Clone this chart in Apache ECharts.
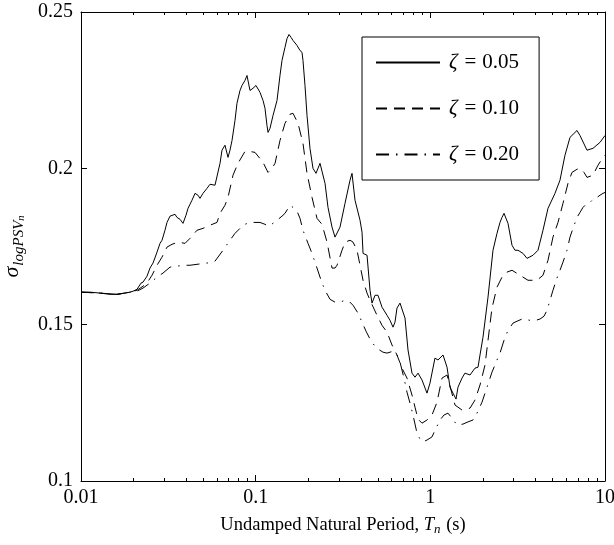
<!DOCTYPE html>
<html><head><meta charset="utf-8">
<script src="https://cdn.jsdelivr.net/npm/echarts@6/dist/echarts.min.js"></script>
<style>html,body{margin:0;padding:0;background:#fff}#c{width:614px;height:545px}</style>
</head><body><div id="c"></div>
<script>
// Period (s) and standard deviation of log PSV for three damping ratios
const periods005 = [0.01,0.01126,0.01285,0.01466,0.01607,0.01786,0.01908,0.01985,0.02092,0.02206,0.02265,0.02387,0.02483,0.02584,0.02724,0.02834,0.02909,0.03026,0.03107,0.03233,0.03319,0.03453,0.03545,0.03689,0.03837,0.03991,0.04099,0.0432,0.04495,0.04675,0.048,0.04994,0.05265,0.05477,0.05623,0.0585,0.06006,0.06249,0.06416,0.06674,0.06944,0.07129,0.0732,0.07615,0.07817,0.08133,0.0835,0.08462,0.08686,0.08919,0.09279,0.09654,0.1004,0.1059,0.1102,0.1131,0.1161,0.1177,0.1208,0.1257,0.1325,0.1378,0.1415,0.1472,0.1512,0.1552,0.1594,0.1636,0.1725,0.1794,0.1842,0.1866,0.1916,0.1968,0.2046,0.2129,0.2215,0.2336,0.2398,0.2495,0.2595,0.2736,0.2846,0.304,0.3247,0.3469,0.3561,0.3705,0.3958,0.4064,0.4118,0.4341,0.4515,0.4635,0.4823,0.5017,0.5288,0.5649,0.5877,0.6114,0.6276,0.6444,0.6705,0.6884,0.7161,0.745,0.7852,0.817,0.85,0.8961,0.957,0.9954,1.063,1.106,1.182,1.246,1.296,1.348,1.403,1.44,1.518,1.579,1.687,1.802,1.875,1.925,2.002,2.139,2.284,2.408,2.505,2.572,2.641,2.784,2.935,3.052,3.177,3.393,3.576,3.87,4.134,4.416,4.717,5.172,5.524,5.901,6.303,6.471,6.912,7.191,7.887,8.535,9.361,10];
const sigma005 = [0.1604,0.1604,0.1601,0.1597,0.1597,0.1601,0.1604,0.1607,0.1613,0.1633,0.1636,0.1655,0.1681,0.1697,0.1732,0.176,0.177,0.1802,0.1827,0.1847,0.185,0.1853,0.1843,0.1837,0.1824,0.185,0.1872,0.1898,0.192,0.1914,0.1904,0.192,0.1936,0.1949,0.1952,0.1946,0.1943,0.2016,0.2058,0.2074,0.2035,0.2058,0.2089,0.2153,0.2208,0.2249,0.2265,0.2259,0.2281,0.2297,0.2249,0.2256,0.2265,0.2243,0.2217,0.2192,0.2137,0.2115,0.2128,0.2169,0.2217,0.2297,0.2345,0.2387,0.2415,0.2428,0.2419,0.2409,0.2393,0.2377,0.2371,0.2345,0.2265,0.2169,0.2064,0.2,0.1984,0.2016,0.201,0.1952,0.1875,0.1812,0.178,0.1812,0.1888,0.1962,0.1984,0.1898,0.1834,0.1796,0.1728,0.1722,0.161,0.1569,0.1594,0.1594,0.1556,0.153,0.1514,0.1492,0.1508,0.1553,0.1569,0.1569,0.1521,0.1419,0.1345,0.1332,0.1345,0.1323,0.1281,0.1313,0.1393,0.1387,0.1403,0.1364,0.13,0.1281,0.1262,0.13,0.1329,0.1345,0.1339,0.1361,0.1364,0.1403,0.146,0.1588,0.1738,0.1792,0.1827,0.1843,0.1856,0.1824,0.1754,0.1738,0.1738,0.1728,0.1712,0.1722,0.1738,0.1802,0.1872,0.192,0.1962,0.2042,0.2099,0.2105,0.2121,0.2105,0.2058,0.2064,0.2083,0.2105];

const periods010 = [0.01,0.01285,0.01607,0.01908,0.02092,0.02265,0.02387,0.0255,0.02724,0.02909,0.03107,0.03319,0.03592,0.0394,0.04207,0.04615,0.04994,0.05477,0.06006,0.06249,0.06674,0.06944,0.07417,0.07921,0.08686,0.09279,0.09913,0.1102,0.1177,0.1241,0.1291,0.1378,0.1472,0.1573,0.1636,0.1747,0.1866,0.1968,0.2102,0.2245,0.2398,0.2562,0.2736,0.2846,0.2923,0.3122,0.3247,0.3469,0.3609,0.3804,0.3958,0.4118,0.4341,0.4515,0.4951,0.5288,0.5649,0.6033,0.6444,0.6884,0.7353,0.7852,0.817,0.85,0.8961,0.957,1.022,1.092,1.166,1.246,1.296,1.384,1.518,1.687,1.802,1.925,2.056,2.139,2.254,2.408,2.572,2.747,2.935,3.261,3.624,4.08,4.416,4.717,5.037,5.38,5.747,6.14,6.471,6.912,7.191,7.583,7.887,8.535,9.117,9.739,10];
const sigma010 = [0.1604,0.1601,0.1597,0.1604,0.161,0.1623,0.1633,0.1658,0.169,0.1716,0.1748,0.1757,0.1764,0.176,0.1776,0.1802,0.1808,0.1818,0.1827,0.1856,0.1882,0.1907,0.1978,0.2016,0.2054,0.2054,0.2051,0.2019,0.1987,0.2,0.2016,0.2089,0.2144,0.2173,0.2176,0.2144,0.208,0.1984,0.1907,0.184,0.1821,0.1764,0.1681,0.1681,0.169,0.1738,0.1764,0.177,0.1764,0.1738,0.169,0.1642,0.1601,0.1578,0.153,0.1498,0.1476,0.1435,0.1403,0.1361,0.1329,0.1275,0.1236,0.1198,0.1185,0.1195,0.1211,0.1252,0.1329,0.1339,0.1304,0.1243,0.1227,0.1233,0.1259,0.1307,0.1371,0.145,0.1553,0.162,0.1652,0.1668,0.1674,0.1658,0.1642,0.1642,0.1658,0.1706,0.178,0.1827,0.1888,0.1952,0.1987,0.1997,0.2,0.1987,0.1971,0.1978,0.201,0.2035,0.2042];

const periods020 = [0.01,0.01285,0.01607,0.01908,0.02092,0.02265,0.02483,0.02724,0.02948,0.03233,0.03545,0.03837,0.04207,0.04615,0.05265,0.0585,0.06501,0.07129,0.07615,0.08133,0.08686,0.09279,0.09913,0.1059,0.1131,0.1177,0.1257,0.1325,0.1415,0.1472,0.1573,0.1636,0.1725,0.1794,0.1866,0.1994,0.2102,0.2245,0.2398,0.2528,0.2666,0.2846,0.304,0.3247,0.3423,0.3609,0.3854,0.4064,0.4284,0.4515,0.476,0.5017,0.5358,0.5649,0.6114,0.6444,0.6705,0.7067,0.7353,0.7649,0.7957,0.8389,0.8728,0.9078,0.957,1.022,1.078,1.136,1.197,1.262,1.33,1.421,1.538,1.643,1.755,1.85,1.976,2.111,2.254,2.408,2.505,2.641,2.784,2.974,3.135,3.348,3.721,4.025,4.245,4.474,4.655,4.842,5.037,5.309,5.524,5.747,6.06,6.303,6.557,6.912,7.191,7.482,7.887,8.204,8.535,8.997,9.361,9.739,10];
const sigma020 = [0.1604,0.1601,0.1597,0.1604,0.1607,0.1617,0.1633,0.1652,0.1665,0.1684,0.1687,0.169,0.169,0.1693,0.1697,0.1703,0.1738,0.177,0.1792,0.1808,0.1821,0.1827,0.1827,0.1827,0.1821,0.1815,0.1824,0.1834,0.1847,0.1856,0.1882,0.1875,0.1863,0.184,0.1802,0.176,0.1728,0.1681,0.1633,0.1604,0.1581,0.1572,0.1572,0.1578,0.1575,0.1562,0.1537,0.1508,0.1479,0.1454,0.1435,0.1422,0.1412,0.1409,0.1415,0.1403,0.138,0.1329,0.1284,0.1249,0.1211,0.1153,0.1134,0.1125,0.1131,0.1141,0.1169,0.1195,0.1211,0.1217,0.1201,0.1179,0.1182,0.1189,0.1195,0.1217,0.1252,0.13,0.1348,0.1387,0.1409,0.145,0.1482,0.1505,0.1511,0.1518,0.1514,0.1514,0.1518,0.1527,0.1546,0.1578,0.161,0.1649,0.1674,0.17,0.1738,0.178,0.1808,0.1843,0.1859,0.1875,0.1888,0.1891,0.1901,0.1907,0.1914,0.192,0.1923];

const seriesNames = ['0.05', '0.10', '0.20'];
const xMajorTicks = [0.01, 0.1, 1, 10];
const xMinorTicks = [0.02,0.03,0.04,0.05,0.06,0.07,0.08,0.09,0.2,0.3,0.4,0.5,0.6,0.7,0.8,0.9,2,3,4,5,6,7,8,9];
const yTicks = [0.1, 0.15, 0.2, 0.25];

const FONT = 'Liberation Serif';
const pairs = (xs, ys) => xs.map((x, i) => [x, ys[i]]);

const chart = echarts.init(document.getElementById('c'), null, {renderer: 'canvas'});
const gridPos = {left: 81, top: 12, right: 9, bottom: 64, containLabel: false, outerBoundsMode: 'none'};
const baseX = {type: 'log', logBase: 10, min: 0.01, max: 10, splitLine: {show: false}};
const baseY = {type: 'value', min: 0.1, max: 0.25, interval: 0.05, splitLine: {show: false}};
const blackLine = {lineStyle: {color: '#000', width: 1}};

chart.setOption({
  animation: false,
  backgroundColor: '#fff',
  grid: [Object.assign({}, gridPos), Object.assign({}, gridPos), Object.assign({}, gridPos), Object.assign({}, gridPos)],
  xAxis: [
    Object.assign({}, baseX, {gridIndex: 0, position: 'bottom',
      axisLine: blackLine,
      axisTick: {inside: true, length: 6, lineStyle: {color: '#000'}, customValues: xMajorTicks},
      axisLabel: {color: '#000', fontFamily: FONT, fontSize: 20, margin: 7, customValues: xMajorTicks,
        formatter: v => String(+v.toPrecision(3))},
      name: '{t|Undamped Natural Period, }{i|T}{s|n}{t| (s)}',
      nameLocation: 'middle', nameGap: 33,
      nameTextStyle: {color: '#000', fontFamily: FONT, fontSize: 18, rich: {
        t: {fontFamily: FONT, fontSize: 18.5, color: '#000'},
        i: {fontFamily: FONT, fontSize: 18.5, fontStyle: 'italic', color: '#000'},
        s: {fontFamily: FONT, fontSize: 13, fontStyle: 'italic', color: '#000', padding: [9, 1, 0, 0]}
      }}
    }),
    Object.assign({}, baseX, {gridIndex: 1, position: 'bottom',
      axisLine: {show: false},
      axisTick: {inside: true, length: 3, lineStyle: {color: '#000'}, customValues: xMinorTicks},
      axisLabel: {show: false}}),
    Object.assign({}, baseX, {gridIndex: 2, position: 'top',
      axisLine: blackLine,
      axisTick: {inside: true, length: 6, lineStyle: {color: '#000'}, customValues: xMajorTicks},
      axisLabel: {show: false}}),
    Object.assign({}, baseX, {gridIndex: 3, position: 'top',
      axisLine: {show: false},
      axisTick: {inside: true, length: 3, lineStyle: {color: '#000'}, customValues: xMinorTicks},
      axisLabel: {show: false}})
  ],
  yAxis: [
    Object.assign({}, baseY, {gridIndex: 0, position: 'left',
      axisLine: Object.assign({show: true}, blackLine),
      axisTick: {inside: true, length: 6, lineStyle: {color: '#000'}, customValues: yTicks},
      axisLabel: {color: '#000', fontFamily: FONT, fontSize: 20, margin: 8, customValues: yTicks},
      name: '{g|σ}{s|logPSV}{ss|n}',
      nameLocation: 'middle', nameGap: 52, nameRotate: 90,
      nameTextStyle: {color: '#000', fontFamily: FONT, fontSize: 20, rich: {
        g: {fontFamily: FONT, fontSize: 22, fontStyle: 'italic', color: '#000'},
        s: {fontFamily: FONT, fontSize: 15, fontStyle: 'italic', color: '#000', padding: [12, 0, 0, 1]},
        ss: {fontFamily: FONT, fontSize: 10.5, fontStyle: 'italic', color: '#000', padding: [18, 0, 0, 0]}
      }}
    }),
    Object.assign({}, baseY, {gridIndex: 1, show: false}),
    Object.assign({}, baseY, {gridIndex: 2, position: 'right',
      axisLine: Object.assign({show: true}, blackLine),
      axisTick: {inside: true, length: 6, lineStyle: {color: '#000'}, customValues: yTicks},
      axisLabel: {show: false}}),
    Object.assign({}, baseY, {gridIndex: 3, show: false})
  ],
  legend: {
    show: true,
    orient: 'vertical',
    left: 362, top: 37,
    padding: [15, 20, 15, 13],
    itemWidth: 64, itemHeight: 20, itemGap: 25,
    borderColor: '#000', borderWidth: 1, backgroundColor: '#fff', borderRadius: 0,
    itemStyle: {color: 'rgba(0,0,0,0)', borderColor: 'rgba(0,0,0,0)', borderWidth: 0, opacity: 0},
    data: seriesNames,
    formatter: n => '{i|ζ}{e|=}' + n,
    textStyle: {color: '#000', fontFamily: FONT, fontSize: 21, lineHeight: 20, padding: [0, 0, 0, 4],
      rich: {
        i: {fontFamily: FONT, fontSize: 21, fontStyle: 'italic', color: '#000'},
        e: {fontFamily: FONT, fontSize: 21, color: '#000', padding: [0, 6, 0, 7]}
      }}
  },
  series: [
    {name: seriesNames[0], type: 'line', xAxisIndex: 0, yAxisIndex: 0, data: pairs(periods005, sigma005),
      symbol: 'none', showSymbol: false, lineStyle: {color: '#000', width: 1, type: 'solid'}, itemStyle: {color: '#000'}},
    {name: seriesNames[1], type: 'line', xAxisIndex: 0, yAxisIndex: 0, data: pairs(periods010, sigma010),
      symbol: 'none', showSymbol: false, lineStyle: {color: '#000', width: 1, type: [11, 7]}, itemStyle: {color: '#000'}},
    {name: seriesNames[2], type: 'line', xAxisIndex: 0, yAxisIndex: 0, data: pairs(periods020, sigma020),
      symbol: 'none', showSymbol: false, lineStyle: {color: '#000', width: 1, type: [13, 7, 1.5, 7]}, itemStyle: {color: '#000'}}
  ]
});
</script></body></html>
